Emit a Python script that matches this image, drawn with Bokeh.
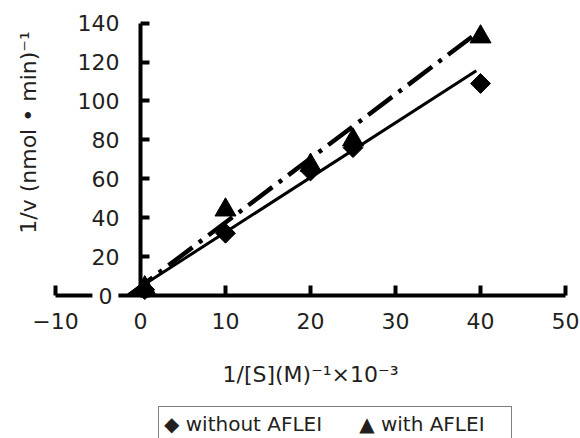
import numpy as np
from bokeh.plotting import figure
from bokeh.models import (LinearAxis, FixedTicker, Label, Legend, LegendItem,
                          Range1d, Grid)
from bokeh.embed import file_html
from bokeh.resources import INLINE

# ---- data ----
s_inv = [0.5, 10, 20, 25, 40]              # 1/[S] (M)^-1 x 10^-3
v_without = [3, 32, 64, 76, 109]           # 1/v without AFLEI
v_with = [4, 44, 67, 80, 133]              # 1/v with AFLEI
fit_x_without = [-1.4, 39.5]
fit_y_without = [0.5, 115.5]
fit_x_with = [-1.4, 40.8]
fit_y_with = [0.0, 139.0]
x_ticks = [-10, 0, 10, 20, 30, 40, 50]
y_ticks = [0, 20, 40, 60, 80, 100, 120, 140]
series_names = ["without AFLEI", "with AFLEI"]
legend_symbols = ["\u25c6", "\u25b2"]
x_title = "1/[S](M)\u207b\u00b9\u00d710\u207b\u00b3"
y_title = "1/v (nmol \u2022 min)\u207b\u00b9"

FONT = "DejaVu Sans"
TXT = "#231f20"

W, H = 580, 438
p = figure(width=W, height=H, output_backend="svg", toolbar_location=None,
           x_range=Range1d(-16.47, 51.76), y_range=Range1d(-73.52, 151.67),
           x_axis_location=None, y_axis_location=None, min_border=0,
           outline_line_color=None, background_fill_color="white",
           border_fill_color="white")
p.center = [c for c in p.center if not isinstance(c, Grid)]

xaxis = LinearAxis(fixed_location=0, bounds=(-10, 50),
                   ticker=FixedTicker(ticks=x_ticks, minor_ticks=[]))
xaxis.major_label_overrides = {-10: "\u221210"}
xaxis.axis_label = x_title
yaxis = LinearAxis(fixed_location=0, bounds=(0, 140),
                   ticker=FixedTicker(ticks=y_ticks, minor_ticks=[]))
yaxis.major_label_overrides = {0: ""}

for ax in (xaxis, yaxis):
    ax.axis_line_width = 4
    ax.axis_line_color = "black"
    ax.major_tick_line_width = 4
    ax.major_tick_line_color = "black"
    ax.minor_tick_line_color = None
    ax.major_tick_out = 0
    ax.major_label_text_font = FONT
    ax.major_label_text_font_size = "22px"
    ax.major_label_text_color = TXT
    ax.axis_label_text_font = FONT
    ax.axis_label_text_font_size = "22px"
    ax.axis_label_text_font_style = "normal"
    ax.axis_label_text_color = TXT
xaxis.major_tick_in = 10
yaxis.major_tick_in = 9
xaxis.major_label_standoff = 17
yaxis.major_label_standoff = 21
xaxis.axis_label_standoff = 30
p.add_layout(xaxis, "below")
p.add_layout(yaxis, "left")

# "0" of the y axis, drawn over the x-axis line like the reference
p.add_layout(Label(x=-2.6, y=0, text="0", text_align="right", text_baseline="middle",
                   text_font=FONT, text_font_size="22px", text_color=TXT,
                   background_fill_color="white", padding=6))

p.add_layout(Label(x=-13.18, y=83.8, text=y_title, angle=np.pi / 2,
                   text_align="center", text_baseline="middle",
                   text_font=FONT, text_font_size="22px", text_color=TXT))

l1 = p.line(fit_x_without, fit_y_without, line_width=3, line_color="black", level="overlay")
l2 = p.line(fit_x_with, fit_y_with, line_width=4.5, line_color="black",
            line_dash="30 8 4 8", level="overlay")
r1 = p.scatter(s_inv, v_without, marker="square", size=14, angle=np.pi / 4,
               color="black", level="overlay")
r2 = p.scatter(s_inv, v_with, marker="triangle", size=21, color="black", level="overlay")

legend = Legend(items=[LegendItem(label=f"{sym} {name}", renderers=[r])
                       for sym, name, r in zip(legend_symbols, series_names, [r1, r2])],
                location=(158, -4), orientation="horizontal",
                glyph_width=0, glyph_height=20, label_standoff=0, spacing=37,
                padding=5, margin=0, label_width=147,
                label_text_font=FONT, label_text_font_size="20px", label_text_color=TXT,
                border_line_color="black", border_line_width=1.2,
                background_fill_color="white", background_fill_alpha=1)
p.add_layout(legend)

open("out.html", "w").write(file_html(p, INLINE))
